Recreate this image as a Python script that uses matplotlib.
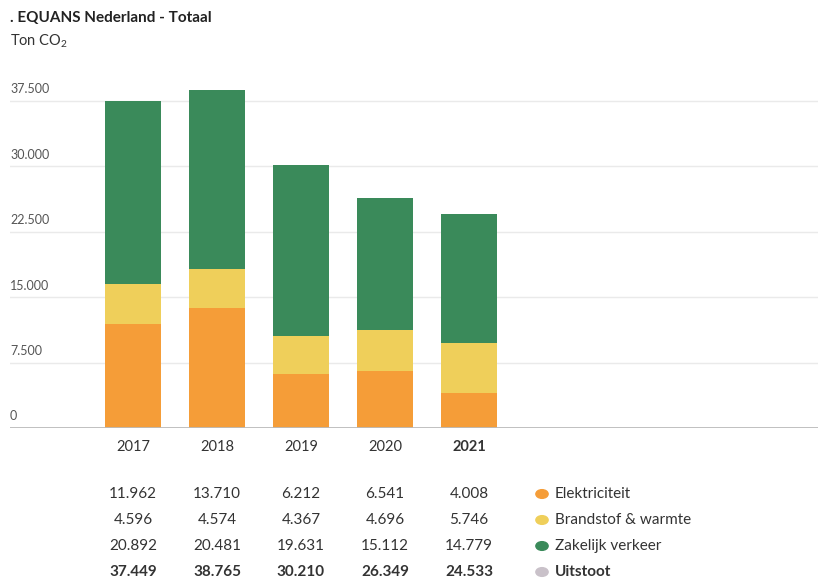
import matplotlib
matplotlib.use("Agg")
import matplotlib.pyplot as plt
import numpy as np

# data
jaren = ["2017", "2018", "2019", "2020", "2021"]
elektriciteit = [11962, 13710, 6212, 6541, 4008]
brandstof = [4596, 4574, 4367, 4696, 5746]
verkeer = [20892, 20481, 19631, 15112, 14779]
uitstoot = [37449, 38765, 30210, 26349, 24533]
reeksen = ["Elektriciteit", "Brandstof & warmte", "Zakelijk verkeer", "Uitstoot"]
yticks = [0, 7500, 15000, 22500, 30000, 37500]

kleuren = ["#f59d38", "#efcf5a", "#3a8a5a", "#c9c1c9"]
tekst = "#333333"

plt.rcParams["font.family"] = ["Lato", "DejaVu Sans"]

W, H = 818, 579
fig = plt.figure(figsize=(W / 100, H / 100), dpi=100)

def fx(px):
    return px / W

def fy(py):
    return 1 - py / H

# axes: x from 10 to 818 px, baseline at 428 px
ymax = 40000
pix_per_unit = 327 / 37500
top_px = 428 - ymax * pix_per_unit
ax = fig.add_axes([fx(10), fy(428), fx(808), (428 - top_px) / H])

x = np.arange(len(jaren))
breedte = 56 / 84
bottom = np.zeros(len(jaren))
for waarden, kleur in zip([elektriciteit, brandstof, verkeer], kleuren):
    ax.bar(x, waarden, breedte, bottom=bottom, color=kleur, zorder=3)
    bottom += np.array(waarden)

# center of first bar at 133 px, spacing 84 px
x0 = (10 - 133) / 84
x1 = (818 - 133) / 84
ax.set_xlim(x0, x1)
ax.set_ylim(0, ymax)

for s in ax.spines.values():
    s.set_visible(False)
ax.set_xticks([])
ax.set_yticks([])
for t in yticks:
    ax.axhline(t, color="#eaeaea" if t else "#bbbbbb", lw=1 if t else 1.3, zorder=1 if t else 4)
    ax.annotate(f"{t:,}".replace(",", "."), xy=(0, t), xycoords=("axes fraction", "data"),
                xytext=(0, 4), textcoords="offset points", ha="left", va="bottom",
                fontsize=9, color="#555555")

# titles
fig.text(fx(10), fy(18), ". EQUANS Nederland - Totaal", fontsize=11, fontweight="bold",
         color="#222222", va="center", ha="left")
fig.text(fx(10), fy(41), "Ton CO$_{\\mathregular{2}}$", fontsize=10.5, color="#333333",
         va="center", ha="left")

# year labels and table
centers_px = [133 + 84 * i for i in range(len(jaren))]
for i, jaar in enumerate(jaren):
    fig.text(fx(centers_px[i]), fy(447), jaar, fontsize=10.5, ha="center", va="center",
             color=tekst, fontweight="bold" if i == len(jaren) - 1 else "normal")

rijen = [elektriciteit, brandstof, verkeer, uitstoot]
rij_y = [494, 520, 546, 572]
for r, (rij, yy) in enumerate(zip(rijen, rij_y)):
    vet = "bold" if r == 3 else "normal"
    for i, v in enumerate(rij):
        fig.text(fx(centers_px[i]), fy(yy), f"{v:,}".replace(",", "."), fontsize=11,
                 ha="center", va="center", color=tekst, fontweight=vet)
    fig.patches.append(plt.Circle((fx(542), fy(yy)), radius=0.0075, transform=fig.transFigure,
                                  color=kleuren[r], figure=fig))
    fig.text(fx(555), fy(yy), reeksen[r], fontsize=11, ha="left", va="center",
             color=tekst, fontweight=vet)

fig.savefig("out.png", dpi=100, facecolor="white")
